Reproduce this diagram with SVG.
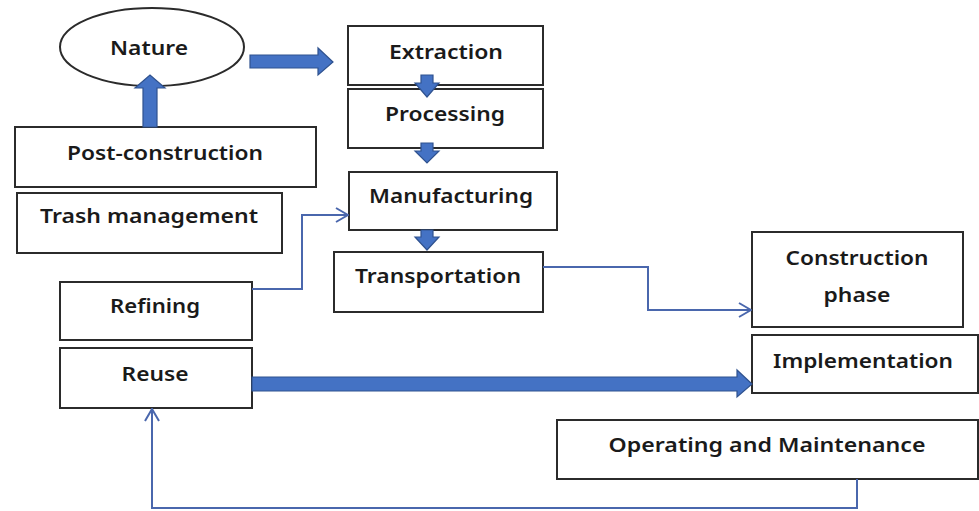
<svg xmlns="http://www.w3.org/2000/svg" width="979" height="511" viewBox="0 0 979 511">
  <style>
    .box { fill: #ffffff; stroke: #2b2b2b; stroke-width: 2; }
    .lbl { font-family: "Noto Sans", "Open Sans", "Liberation Sans", sans-serif; font-size: 20px; font-weight: 600; fill: #1a1a1a; text-anchor: middle; }
    .block { fill: #4472c4; stroke: #2f528f; stroke-width: 1.2; stroke-linejoin: miter; }
    .thin { fill: none; stroke: #4a67ad; stroke-width: 2; }
  </style>
  <defs>
    <marker id="chev" viewBox="0 0 14 16" refX="13" refY="8" markerWidth="14" markerHeight="16" markerUnits="userSpaceOnUse" orient="auto">
      <path d="M1,1 L13,8 L1,15" fill="none" stroke="#4a67ad" stroke-width="2"/>
    </marker>
  </defs>

  <rect width="979" height="511" fill="#ffffff"/>

  <!-- nodes -->
  <g id="nature">
    <ellipse class="box" cx="152" cy="47" rx="92" ry="39"/>
    <text class="lbl" x="149" y="55" textLength="78" lengthAdjust="spacingAndGlyphs">Nature</text>
  </g>
  <g id="post-construction">
    <rect class="box" x="15" y="127" width="301" height="60"/>
    <text class="lbl" x="165" y="160" textLength="196" lengthAdjust="spacingAndGlyphs">Post-construction</text>
  </g>
  <g id="trash-management">
    <rect class="box" x="17" y="193" width="265" height="60"/>
    <text class="lbl" x="149" y="223" textLength="218" lengthAdjust="spacingAndGlyphs">Trash management</text>
  </g>
  <g id="extraction">
    <rect class="box" x="348" y="26" width="195" height="59"/>
    <text class="lbl" x="446" y="59" textLength="114" lengthAdjust="spacingAndGlyphs">Extraction</text>
  </g>
  <g id="processing">
    <rect class="box" x="348" y="89" width="195" height="59"/>
    <text class="lbl" x="445" y="121" textLength="120" lengthAdjust="spacingAndGlyphs">Processing</text>
  </g>
  <g id="manufacturing">
    <rect class="box" x="349" y="172" width="208" height="58"/>
    <text class="lbl" x="451" y="203" textLength="164" lengthAdjust="spacingAndGlyphs">Manufacturing</text>
  </g>
  <g id="transportation">
    <rect class="box" x="334" y="252" width="209" height="60"/>
    <text class="lbl" x="438" y="283" textLength="166" lengthAdjust="spacingAndGlyphs">Transportation</text>
  </g>
  <g id="refining">
    <rect class="box" x="60" y="282" width="192" height="58"/>
    <text class="lbl" x="155" y="313" textLength="90" lengthAdjust="spacingAndGlyphs">Refining</text>
  </g>
  <g id="reuse">
    <rect class="box" x="60" y="348" width="192" height="60"/>
    <text class="lbl" x="155" y="381" textLength="67" lengthAdjust="spacingAndGlyphs">Reuse</text>
  </g>
  <g id="construction-phase">
    <rect class="box" x="752" y="232" width="211" height="95"/>
    <text class="lbl" x="857" y="265" textLength="143" lengthAdjust="spacingAndGlyphs">Construction</text>
    <text class="lbl" x="857" y="302" textLength="67" lengthAdjust="spacingAndGlyphs">phase</text>
  </g>
  <g id="implementation">
    <rect class="box" x="752" y="335" width="226" height="58"/>
    <text class="lbl" x="863" y="368" textLength="180" lengthAdjust="spacingAndGlyphs">Implementation</text>
  </g>
  <g id="operating-maintenance">
    <rect class="box" x="557" y="420" width="421" height="59"/>
    <text class="lbl" x="767" y="452" textLength="317" lengthAdjust="spacingAndGlyphs">Operating and Maintenance</text>
  </g>

  <!-- connectors -->
  <g id="connectors">
    <!-- Nature to Extraction -->
    <path class="block" d="M250,55 L318,55 L318,48 L333,62 L318,75 L318,68 L250,68 Z"/>
    <!-- Post-construction to Nature -->
    <path class="block" d="M143,127 L143,88 L135,88 L150,75 L165,88 L157,88 L157,127 Z"/>
    <!-- Extraction to Processing -->
    <path class="block" d="M421,75 L433,75 L433,83 L439,83 L427,97 L415,83 L421,83 Z"/>
    <!-- Processing to Manufacturing -->
    <path class="block" d="M421,143 L433,143 L433,151 L439,151 L427,163 L415,151 L421,151 Z"/>
    <!-- Manufacturing to Transportation -->
    <path class="block" d="M421,230 L433,230 L433,237 L439,237 L427,250 L415,237 L421,237 Z"/>
    <!-- Reuse to Implementation -->
    <path class="block" d="M252,377 L737,377 L737,370 L752,384 L737,397 L737,391 L252,391 Z"/>
    <!-- Refining to Manufacturing -->
    <path class="thin" d="M252,289 L302,289 L302,215 L348,215" marker-end="url(#chev)"/>
    <!-- Transportation to Construction phase -->
    <path class="thin" d="M543,267 L648,267 L648,310 L751,310" marker-end="url(#chev)"/>
    <!-- Operating and Maintenance back to Reuse -->
    <path class="thin" d="M857,479 L857,508 L152,508 L152,409" marker-end="url(#chev)"/>
  </g>
</svg>
